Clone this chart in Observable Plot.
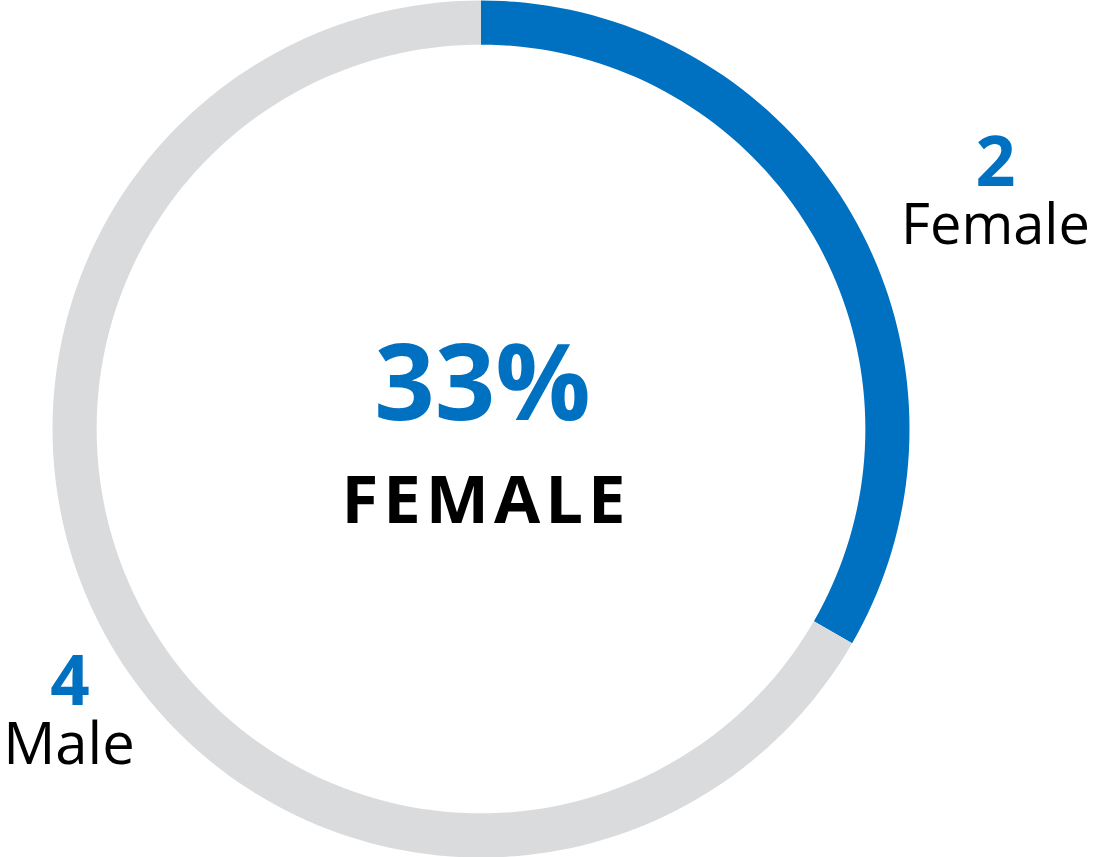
<!DOCTYPE html>
<html>
<head>
<meta charset="utf-8">
<script src="https://cdn.jsdelivr.net/npm/d3@7"></script>
<script src="https://cdn.jsdelivr.net/npm/@observablehq/plot@0.6"></script>
<style>
  html, body { margin: 0; padding: 0; background: #fff; }
  #chart svg { display: block; }
</style>
</head>
<body>
<div id="chart"></div>
<script>
// ---- data ----
const categories = ["Female", "Male"];
const counts = [2, 4];
const colors = ["#0070c0", "#dadbdd"];
const centerLabel = "FEMALE";

// ---- geometry helpers (derived from data) ----
const total = d3.sum(counts);
const innerRatio = 0.897;
const steps = 240;
const ringPoints = [];
let cum = 0;
categories.forEach((cat, i) => {
  const a0 = (cum / total) * 2 * Math.PI;
  cum += counts[i];
  const a1 = (cum / total) * 2 * Math.PI;
  const n = Math.max(2, Math.round(steps * (a1 - a0) / (2 * Math.PI)));
  for (let k = 0; k <= n; k++) {
    const a = a0 + (a1 - a0) * k / n;
    ringPoints.push({category: cat, x: Math.sin(a), y: Math.cos(a)});
  }
  for (let k = n; k >= 0; k--) {
    const a = a0 + (a1 - a0) * k / n;
    ringPoints.push({category: cat, x: innerRatio * Math.sin(a), y: innerRatio * Math.cos(a)});
  }
});

const pct = Math.round(counts[0] / total * 100) + "%";
const font = "'Open Sans', 'Noto Sans', sans-serif";
const origin = [{x: 0, y: 0}];

const plot = Plot.plot({
  width: 1094,
  height: 857,
  marginLeft: 52,
  marginRight: 185,
  marginTop: 0,
  marginBottom: 0,
  x: {domain: [-1, 1], axis: null},
  y: {domain: [-1, 1], axis: null},
  color: {domain: categories, range: colors},
  style: {fontFamily: font, background: "#fff"},
  marks: [
    Plot.line(ringPoints, {x: "x", y: "y", z: "category", fill: "category", stroke: "none", curve: "linear-closed"}),
    // center
    Plot.text(origin, {x: "x", y: "y", text: () => pct, fill: colors[0], fontSize: 106, fontWeight: "bold", lineAnchor: "bottom", dx: 1.5, dy: -9.5, fontFamily: font}),
    Plot.text(origin, {x: "x", y: "y", text: () => centerLabel, fill: "#000", fontSize: 67, fontWeight: "bold", lineAnchor: "bottom", dx: 5, dy: 93.5, fontFamily: font}),
    // female label
    Plot.text(origin, {x: "x", y: "y", text: () => String(counts[0]), fill: colors[0], fontSize: 70, fontWeight: "bold", lineAnchor: "bottom", dx: 514.5, dy: -243.5, fontFamily: font}),
    Plot.text(origin, {x: "x", y: "y", text: () => categories[0], fill: "#000", fontSize: 56, lineAnchor: "bottom", dx: 514.5, dy: -185.5, fontFamily: font}),
    // male label
    Plot.text(origin, {x: "x", y: "y", text: () => String(counts[1]), fill: colors[0], fontSize: 69, fontWeight: "bold", lineAnchor: "bottom", dx: -411, dy: 275.5, fontFamily: font}),
    Plot.text(origin, {x: "x", y: "y", text: () => categories[1], fill: "#000", fontSize: 58, lineAnchor: "bottom", dx: -412, dy: 334.5, fontFamily: font})
  ]
});

d3.select(plot).selectAll("text").filter(function() { return this.textContent === centerLabel; })
  .attr("letter-spacing", "5px");

document.getElementById("chart").appendChild(plot);
</script>
</body>
</html>
